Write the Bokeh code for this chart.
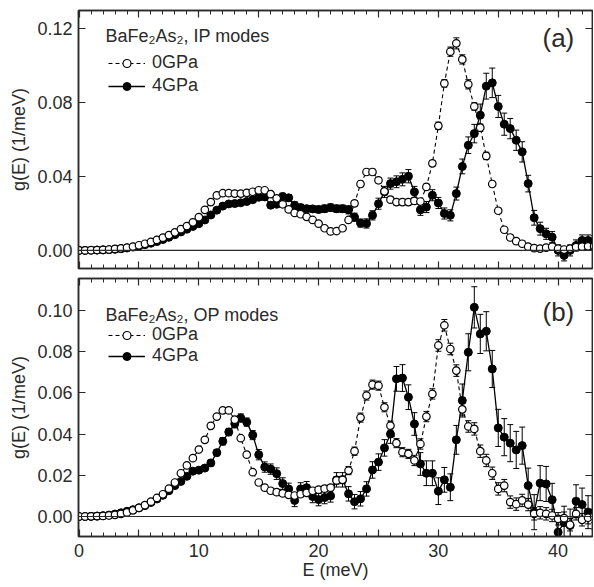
from bokeh.plotting import figure
from bokeh.layouts import column
from bokeh.models import (ColumnDataSource, Whisker, TeeHead, Span, Label, Legend, LegendItem,
                          FixedTicker, PrintfTickFormatter, LinearAxis, Range1d,
                          CustomLabelingPolicy)
from bokeh.embed import file_html
from bokeh.resources import INLINE

# ---------------- data ----------------
E = [0.0, 0.5, 1.0, 1.5, 2.0, 2.5, 3.0, 3.5, 4.0, 4.5,
     5.0, 5.5, 6.0, 6.5, 7.0, 7.5, 8.0, 8.5, 9.0, 9.5,
     10.0, 10.5, 11.0, 11.5, 12.0, 12.5, 13.0, 13.5, 14.0, 14.5,
     15.0, 15.5, 16.0, 16.5, 17.0, 17.5, 18.0, 18.5, 19.0, 19.5,
     20.0, 20.5, 21.0, 21.5, 22.0, 22.5, 23.0, 23.5, 24.0, 24.5,
     25.0, 25.5, 26.0, 26.5, 27.0, 27.5, 28.0, 28.5, 29.0, 29.5,
     30.0, 30.5, 31.0, 31.5, 32.0, 32.5, 33.0, 33.5, 34.0, 34.5,
     35.0, 35.5, 36.0, 36.5, 37.0, 37.5, 38.0, 38.5, 39.0, 39.5,
     40.0, 40.5, 41.0, 41.5, 42.0, 42.5, 43.0]

ip_0gpa = [0.0000, 0.0000, 0.0001, 0.0002, 0.0003, 0.0005, 0.0008, 0.0011, 0.0015, 0.0021,
           0.0028, 0.0036, 0.0046, 0.0057, 0.0069, 0.0083, 0.0098, 0.0115, 0.0132, 0.0152,
           0.0180, 0.0220, 0.0262, 0.0298, 0.0310, 0.0310, 0.0308, 0.0308, 0.0312, 0.0318,
           0.0326, 0.0326, 0.0305, 0.0282, 0.0250, 0.0222, 0.0203, 0.0196, 0.0182, 0.0165,
           0.0145, 0.0120, 0.0103, 0.0105, 0.0120, 0.0165, 0.0255, 0.0360, 0.0425, 0.0425,
           0.0380, 0.0320, 0.0275, 0.0262, 0.0262, 0.0262, 0.0268, 0.0265, 0.0344, 0.0472,
           0.0675, 0.0905, 0.1077, 0.1122, 0.1035, 0.0900, 0.0780, 0.0665, 0.0512, 0.0360,
           0.0215, 0.0112, 0.0070, 0.0050, 0.0036, 0.0020, 0.0012, 0.0010, 0.0015, 0.0020,
           0.0010, 0.0005, 0.0010, 0.0018, 0.0020, 0.0022, 0.0022]
ip_0gpa_err = [0.0003, 0.0003, 0.0003, 0.0003, 0.0003, 0.0003, 0.0003, 0.0003, 0.0003, 0.0003,
               0.0005, 0.0005, 0.0005, 0.0005, 0.0005, 0.0005, 0.0005, 0.0005, 0.0005, 0.0005,
               0.0008, 0.0008, 0.0008, 0.0008, 0.0008, 0.0008, 0.0008, 0.0008, 0.0008, 0.0008,
               0.0010, 0.0010, 0.0010, 0.0010, 0.0010, 0.0010, 0.0010, 0.0010, 0.0010, 0.0010,
               0.0010, 0.0010, 0.0010, 0.0010, 0.0012, 0.0012, 0.0015, 0.0015, 0.0015, 0.0015,
               0.0015, 0.0015, 0.0015, 0.0015, 0.0015, 0.0015, 0.0015, 0.0015, 0.0015, 0.0015,
               0.0020, 0.0020, 0.0025, 0.0030, 0.0025, 0.0025, 0.0020, 0.0020, 0.0020, 0.0015,
               0.0015, 0.0015, 0.0015, 0.0015, 0.0015, 0.0015, 0.0015, 0.0015, 0.0015, 0.0015,
               0.0015, 0.0015, 0.0015, 0.0015, 0.0015, 0.0015, 0.0015]

ip_4gpa = [0.0000, 0.0000, 0.0001, 0.0002, 0.0003, 0.0004, 0.0006, 0.0009, 0.0013, 0.0018,
           0.0024, 0.0031, 0.0039, 0.0048, 0.0059, 0.0071, 0.0085, 0.0100, 0.0115, 0.0130,
           0.0145, 0.0165, 0.0192, 0.0218, 0.0240, 0.0252, 0.0254, 0.0258, 0.0265, 0.0275,
           0.0288, 0.0290, 0.0245, 0.0250, 0.0292, 0.0285, 0.0245, 0.0232, 0.0226, 0.0225,
           0.0222, 0.0226, 0.0232, 0.0226, 0.0226, 0.0220, 0.0180, 0.0148, 0.0146, 0.0190,
           0.0253, 0.0317, 0.0362, 0.0372, 0.0385, 0.0402, 0.0317, 0.0220, 0.0235, 0.0299,
           0.0257, 0.0200, 0.0190, 0.0308, 0.0455, 0.0570, 0.0633, 0.0733, 0.0890, 0.0908,
           0.0780, 0.0684, 0.0660, 0.0597, 0.0534, 0.0362, 0.0177, 0.0118, 0.0090, 0.0072,
           0.0000, -0.0027, 0.0000, 0.0027, 0.0054, 0.0054, 0.0050]
ip_4gpa_err = [0.0003, 0.0003, 0.0003, 0.0003, 0.0003, 0.0003, 0.0003, 0.0003, 0.0003, 0.0003,
               0.0005, 0.0005, 0.0005, 0.0005, 0.0005, 0.0005, 0.0005, 0.0005, 0.0005, 0.0005,
               0.0008, 0.0008, 0.0010, 0.0010, 0.0010, 0.0010, 0.0010, 0.0010, 0.0012, 0.0012,
               0.0015, 0.0015, 0.0015, 0.0015, 0.0018, 0.0018, 0.0018, 0.0018, 0.0018, 0.0018,
               0.0018, 0.0020, 0.0020, 0.0020, 0.0020, 0.0022, 0.0022, 0.0022, 0.0025, 0.0025,
               0.0030, 0.0030, 0.0030, 0.0032, 0.0035, 0.0036, 0.0030, 0.0030, 0.0030, 0.0030,
               0.0030, 0.0030, 0.0030, 0.0035, 0.0040, 0.0045, 0.0050, 0.0060, 0.0070, 0.0080,
               0.0060, 0.0060, 0.0055, 0.0055, 0.0055, 0.0045, 0.0040, 0.0035, 0.0030, 0.0030,
               0.0030, 0.0030, 0.0030, 0.0030, 0.0030, 0.0030, 0.0030]

op_0gpa = [0.0000, 0.0000, 0.0001, 0.0002, 0.0003, 0.0005, 0.0008, 0.0013, 0.0020, 0.0030,
           0.0042, 0.0055, 0.0072, 0.0090, 0.0108, 0.0135, 0.0165, 0.0210, 0.0248, 0.0283,
           0.0325, 0.0372, 0.0440, 0.0485, 0.0515, 0.0515, 0.0470, 0.0380, 0.0300, 0.0215,
           0.0165, 0.0140, 0.0125, 0.0118, 0.0112, 0.0105, 0.0102, 0.0108, 0.0115, 0.0125,
           0.0130, 0.0135, 0.0140, 0.0175, 0.0178, 0.0223, 0.0317, 0.0480, 0.0587, 0.0640,
           0.0635, 0.0530, 0.0441, 0.0356, 0.0312, 0.0304, 0.0272, 0.0352, 0.0485, 0.0595,
           0.0830, 0.0928, 0.0813, 0.0708, 0.0520, 0.0437, 0.0425, 0.0317, 0.0272, 0.0210,
           0.0134, 0.0150, 0.0070, 0.0060, 0.0078, 0.0058, 0.0013, 0.0018, 0.0013, 0.0005,
           -0.0011, -0.0008, -0.0040, 0.0013, -0.0016, -0.0006, 0.0000]
op_0gpa_err = [0.0003, 0.0003, 0.0003, 0.0003, 0.0003, 0.0003, 0.0003, 0.0003, 0.0003, 0.0003,
               0.0005, 0.0005, 0.0005, 0.0005, 0.0005, 0.0005, 0.0005, 0.0005, 0.0005, 0.0005,
               0.0008, 0.0008, 0.0008, 0.0008, 0.0008, 0.0008, 0.0008, 0.0008, 0.0008, 0.0008,
               0.0012, 0.0012, 0.0012, 0.0012, 0.0012, 0.0012, 0.0012, 0.0012, 0.0012, 0.0012,
               0.0015, 0.0015, 0.0015, 0.0018, 0.0018, 0.0020, 0.0020, 0.0022, 0.0022, 0.0022,
               0.0022, 0.0022, 0.0022, 0.0022, 0.0022, 0.0022, 0.0025, 0.0025, 0.0025, 0.0025,
               0.0028, 0.0028, 0.0028, 0.0028, 0.0028, 0.0028, 0.0030, 0.0030, 0.0030, 0.0030,
               0.0030, 0.0030, 0.0030, 0.0030, 0.0030, 0.0030, 0.0030, 0.0030, 0.0030, 0.0030,
               0.0030, 0.0030, 0.0030, 0.0030, 0.0030, 0.0030, 0.0030]

op_4gpa = [0.0000, 0.0000, 0.0001, 0.0002, 0.0004, 0.0007, 0.0012, 0.0018, 0.0025, 0.0033,
           0.0042, 0.0053, 0.0068, 0.0085, 0.0103, 0.0125, 0.0150, 0.0170, 0.0195, 0.0220,
           0.0225, 0.0235, 0.0260, 0.0310, 0.0365, 0.0410, 0.0450, 0.0478, 0.0458, 0.0395,
           0.0300, 0.0240, 0.0230, 0.0208, 0.0160, 0.0134, 0.0078, 0.0134, 0.0140, 0.0097,
           0.0082, 0.0092, 0.0100, 0.0178, 0.0178, 0.0110, 0.0072, 0.0086, 0.0134, 0.0226,
           0.0264, 0.0333, 0.0400, 0.0668, 0.0672, 0.0579, 0.0449, 0.0255, 0.0210, 0.0210,
           0.0123, 0.0178, 0.0142, 0.0372, 0.0563, 0.0797, 0.1015, 0.0886, 0.0899, 0.0716,
           0.0430, 0.0385, 0.0356, 0.0323, 0.0344, 0.0150, 0.0021, 0.0162, 0.0158, 0.0081,
           -0.0076, -0.0030, -0.0044, 0.0074, 0.0058, 0.0021, 0.0020]
op_4gpa_err = [0.0004, 0.0004, 0.0004, 0.0004, 0.0004, 0.0004, 0.0004, 0.0004, 0.0004, 0.0004,
               0.0007, 0.0007, 0.0007, 0.0007, 0.0007, 0.0007, 0.0007, 0.0007, 0.0007, 0.0007,
               0.0012, 0.0012, 0.0015, 0.0015, 0.0018, 0.0018, 0.0020, 0.0020, 0.0020, 0.0022,
               0.0025, 0.0025, 0.0025, 0.0028, 0.0028, 0.0028, 0.0030, 0.0030, 0.0030, 0.0030,
               0.0030, 0.0030, 0.0030, 0.0035, 0.0035, 0.0035, 0.0035, 0.0035, 0.0035, 0.0040,
               0.0040, 0.0040, 0.0045, 0.0060, 0.0065, 0.0060, 0.0055, 0.0055, 0.0060, 0.0060,
               0.0065, 0.0060, 0.0065, 0.0070, 0.0080, 0.0090, 0.0100, 0.0095, 0.0095, 0.0090,
               0.0090, 0.0090, 0.0090, 0.0090, 0.0090, 0.0085, 0.0085, 0.0085, 0.0085, 0.0080,
               0.0080, 0.0080, 0.0080, 0.0080, 0.0080, 0.0080, 0.0080]

x_major = [0, 5, 10, 15, 20, 25, 30, 35, 40]
x_minor = list(range(0, 44))
x_labels = {0: "0", 5: "", 10: "10", 15: "", 20: "20", 25: "", 30: "30", 35: "", 40: "40"}
ip_yticks = [0.0, 0.04, 0.08, 0.12]
op_yticks = [0.0, 0.02, 0.04, 0.06, 0.08, 0.10]
series_labels = ["0GPa", "4GPa"]

FONT = "Liberation Sans"
AX = "#2a2a2a"
FW, FH = 514, 258

HIDE = CustomLabelingPolicy(
    code="for (let i = 0; i < indices.size; i++) { indices.unset(i) }\nreturn indices")


def style_axis(ax, labels=True):
    ax.axis_line_color = AX
    ax.axis_line_width = 1.5
    ax.major_tick_line_color = AX
    ax.minor_tick_line_color = AX
    ax.major_tick_line_width = 1.2
    ax.minor_tick_line_width = 1.0
    ax.major_tick_in = 7
    ax.major_tick_out = 0
    ax.minor_tick_in = 4
    ax.minor_tick_out = 0
    ax.major_label_text_font = FONT
    ax.major_label_text_color = AX
    if labels:
        ax.major_label_text_font_size = "18px"
        ax.major_label_standoff = 6
    else:
        ax.major_label_text_font_size = "0px"
        ax.major_label_standoff = 0
        ax.major_label_policy = HIDE
        ax.axis_label = None


def panel(y0, e0, y4, e4, yr, yticks, title, tag, title_y, tag_y, leg_vy, leg_spacing,
          show_x_labels):
    p = figure(frame_width=FW, frame_height=FH,
               x_range=Range1d(-0.05, 42.87), y_range=Range1d(*yr),
               output_backend="svg", toolbar_location=None,
               min_border_left=78, min_border_right=1,
               min_border_top=5 if show_x_labels else 10,
               min_border_bottom=0 if show_x_labels else 5,
               background_fill_color="white", border_fill_color="white")
    p.grid.visible = False
    p.outline_line_color = AX
    p.outline_line_width = 1.5

    xt = FixedTicker(ticks=x_major, minor_ticks=x_minor)
    yt = FixedTicker(ticks=yticks)

    xa = p.xaxis[0]
    xa.ticker = xt
    style_axis(xa, labels=show_x_labels)
    if show_x_labels:
        xa.major_label_overrides = x_labels
        xa.major_label_standoff = 7
        xa.axis_label = "E (meV)"
        xa.axis_label_text_font = FONT
        xa.axis_label_text_font_size = "18px"
        xa.axis_label_text_font_style = "normal"
        xa.axis_label_text_color = AX
        xa.axis_label_standoff = 0

    ya = p.yaxis[0]
    ya.ticker = yt
    ya.formatter = PrintfTickFormatter(format="%.2f")
    style_axis(ya)
    ya.minor_tick_line_color = None
    ya.axis_label = "g(E) (1/meV)"
    ya.axis_label_text_font = FONT
    ya.axis_label_text_font_size = "18px"
    ya.axis_label_text_font_style = "normal"
    ya.axis_label_text_color = AX
    ya.axis_label_standoff = 5

    top = LinearAxis(ticker=xt)
    style_axis(top, labels=False)
    p.add_layout(top, "above")
    right = LinearAxis(ticker=yt)
    style_axis(right, labels=False)
    right.minor_tick_line_color = None
    p.add_layout(right, "right")

    p.add_layout(Span(location=0, dimension="width", line_color=AX, line_width=1.2))

    s0 = ColumnDataSource(dict(x=E, y=y0, lo=[a - b for a, b in zip(y0, e0)],
                               up=[a + b for a, b in zip(y0, e0)]))
    s4 = ColumnDataSource(dict(x=E, y=y4, lo=[a - b for a, b in zip(y4, e4)],
                               up=[a + b for a, b in zip(y4, e4)]))

    for src in (s4, s0):
        p.add_layout(Whisker(base="x", upper="up", lower="lo", source=src,
                             line_color="black", line_width=1,
                             upper_head=TeeHead(size=6, line_color="black", line_width=1),
                             lower_head=TeeHead(size=6, line_color="black", line_width=1)))

    l4 = p.line("x", "y", source=s4, line_color="black", line_width=1.3)
    m4 = p.scatter("x", "y", source=s4, marker="circle", size=8,
                   fill_color="black", line_color="black", line_width=1)
    l0 = p.line("x", "y", source=s0, line_color="black", line_width=1.1, line_dash="4 3")
    m0 = p.scatter("x", "y", source=s0, marker="circle", size=7.5,
                   fill_color="white", line_color="black", line_width=1.2)

    leg = Legend(items=[LegendItem(label=series_labels[0], renderers=[l0, m0]),
                        LegendItem(label=series_labels[1], renderers=[l4, m4])],
                 location=(30, leg_vy), glyph_width=37, glyph_height=20,
                 label_height=20, label_standoff=7, spacing=leg_spacing,
                 padding=0, margin=0, border_line_color=None,
                 background_fill_alpha=0,
                 label_text_font=FONT, label_text_font_size="18px",
                 label_text_color=AX)
    p.add_layout(leg)

    p.add_layout(Label(x=27, y=title_y, x_units="screen", y_units="screen",
                       text=title, text_font=FONT, text_font_size="18px",
                       text_color=AX, text_baseline="alphabetic"))
    p.add_layout(Label(x=464, y=tag_y, x_units="screen", y_units="screen",
                       text=tag, text_font=FONT, text_font_size="26px",
                       text_color=AX, text_baseline="alphabetic"))
    return p


p1 = panel(ip_0gpa, ip_0gpa_err, ip_4gpa, ip_4gpa_err, (-0.0098, 0.130), ip_yticks,
           "BaFe\u2082As\u2082, IP modes", "(a)", FH - 25.5, FH - 27, FH - 86, 2, False)
p2 = panel(op_0gpa, op_0gpa_err, op_4gpa, op_4gpa_err, (-0.0097, 0.1155), op_yticks,
           "BaFe\u2082As\u2082, OP modes", "(b)", FH - 36.5, FH - 33, FH - 88, 0, True)

layout = column(p1, p2, spacing=0)
open("out.html", "w").write(file_html(layout, INLINE))
